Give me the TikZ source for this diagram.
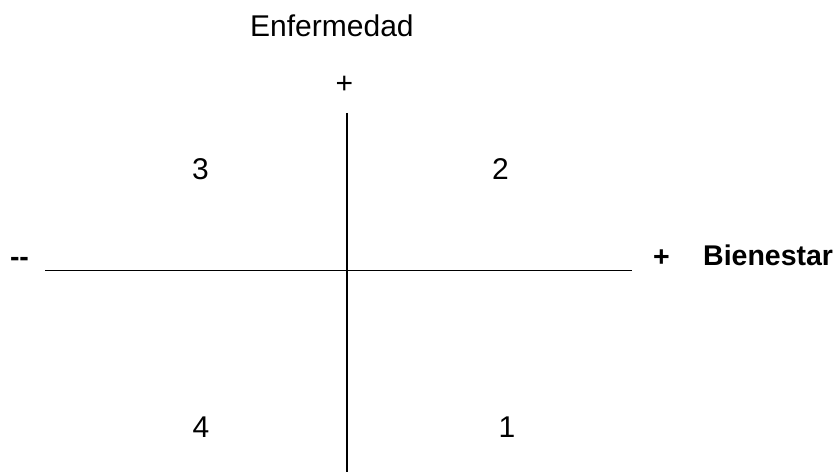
\documentclass[tikz,border=0pt]{standalone}
\usepackage{fontspec}
\setmainfont{Liberation Sans}
\begin{document}
\begin{tikzpicture}[x=1pt,y=1pt,
  lbl/.style={font=\fontsize{30}{34}\selectfont, inner sep=0pt, anchor=base},
  blbl/.style={inner sep=0pt, anchor=base, font=\fontsize{28.5}{33}\selectfont\bfseries},
  axis/.style={line width=1.4pt, black}]
\useasboundingbox (0,0) rectangle (835,472);
\coordinate (vtop) at (347,359);
\coordinate (vbot) at (347,0);
\coordinate (hl) at (45,201.5);
\coordinate (hr) at (632,201.5);
\draw[axis] (vtop) -- (vbot);
\draw[axis] (hl) -- (hr);
\node[lbl, anchor=base west] (enf) at (250,435) {Enfermedad};
\node[lbl] (ptop) at (344.5,378.5) {+};
\node[lbl] (q3) at (200.5,292) {3};
\node[lbl] (q2) at (500.5,292) {2};
\node[lbl] (q4) at (201,35) {4};
\node[lbl] (q1) at (507,35) {1};
\node[blbl] (minus) at (19.5,206) {-{}-};
\node[blbl] (plus) at (661.5,206) {+};
\node[blbl, anchor=base west] (bien) at (703,207) {Bienestar};
\end{tikzpicture}
\end{document}
